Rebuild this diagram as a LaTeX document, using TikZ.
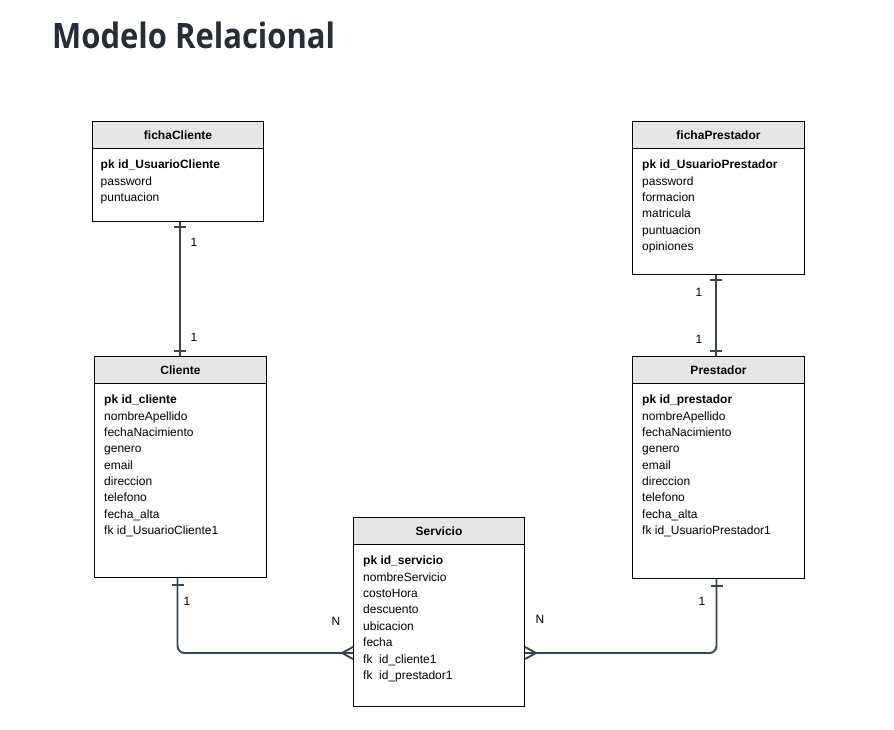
\documentclass[tikz,border=0pt]{standalone}
\usepackage{fontspec}
\setmainfont{Liberation Sans}
\newfontfamily\titlefont{Open Sans}
\usetikzlibrary{calc}
\definecolor{lnc}{RGB}{54,70,84}
\definecolor{hdrc}{RGB}{230,230,230}
\definecolor{ttlc}{RGB}{38,45,54}
\tikzset{
  hdr/.style={draw=black, fill=hdrc, line width=1pt, anchor=north west, minimum height=27pt, inner sep=0pt, font=\fontsize{12}{14}\selectfont\bfseries},
  tbody/.style={draw=black, fill=white, line width=1pt, anchor=north west, inner sep=0pt},
  fields/.style={anchor=north west, inner sep=0pt, align=left, font=\fontsize{12}{16.35}\selectfont},
  rel/.style={draw=lnc, line width=1.9pt},
  tick/.style={draw=lnc, line width=1.8pt},
  card/.style={inner sep=0pt, font=\fontsize{12}{14}\selectfont},
}
\begin{document}
\begin{tikzpicture}[x=1pt,y=-1pt]
\useasboundingbox (0,0) rectangle (894,730);
% title
\node[anchor=base west, inner sep=0pt, text=ttlc, font=\titlefont\bfseries\fontsize{35}{40}\selectfont] (title) at (52,49) {\scalebox{0.885}[1]{Modelo Relacional}};

% fichaCliente
\node[hdr, minimum width=171pt] (fcH) at (92,121) {fichaCliente};
\node[tbody, minimum width=171pt, minimum height=73pt] (fc) at (92,148) {};
\node[fields] (fcT) at ([shift={(8.5,12)}]fc.north west) {\textbf{pk id\_UsuarioCliente}\\password\\puntuacion};

% fichaPrestador
\node[hdr, minimum width=172pt] (fpH) at (632,121) {fichaPrestador};
\node[tbody, minimum width=172pt, minimum height=126pt] (fp) at (632,148) {};
\node[fields] (fpT) at ([shift={(10,12)}]fp.north west) {\textbf{pk id\_UsuarioPrestador}\\password\\formacion\\matricula\\puntuacion\\opiniones};

% Cliente
\node[hdr, minimum width=172pt] (clH) at (94,356) {Cliente};
\node[tbody, minimum width=172pt, minimum height=194pt] (cl) at (94,383) {};
\node[fields] (clT) at ([shift={(10,12)}]cl.north west) {\textbf{pk id\_cliente}\\nombreApellido\\fechaNacimiento\\genero\\email\\direccion\\telefono\\fecha\_alta\\fk id\_UsuarioCliente1};

% Prestador
\node[hdr, minimum width=172pt] (prH) at (632,356) {Prestador};
\node[tbody, minimum width=172pt, minimum height=195pt] (pr) at (632,383) {};
\node[fields] (prT) at ([shift={(10,12)}]pr.north west) {\textbf{pk id\_prestador}\\nombreApellido\\fechaNacimiento\\genero\\email\\direccion\\telefono\\fecha\_alta\\fk id\_UsuarioPrestador1};

% Servicio
\node[hdr, minimum width=171pt] (svH) at (353,517) {Servicio};
\node[tbody, minimum width=171pt, minimum height=162pt] (sv) at (353,544) {};
\node[fields] (svT) at ([shift={(10,12)}]sv.north west) {\textbf{pk id\_servicio}\\nombreServicio\\costoHora\\descuento\\ubicacion\\fecha\\fk\ \ id\_cliente1\\fk\ \ id\_prestador1};

% fichaCliente -- Cliente
\coordinate (fcB) at ([xshift=-0.5pt]fc.south -| clH.north);
\coordinate (clN) at ([xshift=-0.5pt]clH.north);
\draw[rel] (fcB) -- (clN);
\draw[tick] ([shift={(-6,5)}]fcB) -- ([shift={(6,5)}]fcB);
\draw[tick] ([shift={(-6,-5)}]clN) -- ([shift={(6,-5)}]clN);
\node[card] (c1a) at (194,242) {1};
\node[card] (c1b) at (194,337) {1};

% fichaPrestador -- Prestador
\coordinate (fpB) at ([xshift=-2.5pt]fp.south);
\coordinate (prN) at ([xshift=-2.5pt]prH.north);
\draw[rel] (fpB) -- (prN);
\draw[tick] ([shift={(-6,5)}]fpB) -- ([shift={(6,5)}]fpB);
\draw[tick] ([shift={(-6,-5)}]prN) -- ([shift={(6,-5)}]prN);
\node[card] (c2a) at (699,292) {1};
\node[card] (c2b) at (699,339) {1};

% Cliente -- Servicio
\coordinate (svL) at (sv.west |- 0,653);
\coordinate (svR) at (sv.east |- 0,653);
\draw[rel, rounded corners=7pt] ([xshift=-3pt]cl.south) |- (svL);
\draw[tick] ([shift={(-9,7)}]cl.south) -- ([shift={(3,7)}]cl.south);
\draw[rel] ([xshift=-11pt]svL) -- ([yshift=-6pt]svL);
\draw[rel] ([xshift=-11pt]svL) -- ([yshift=6pt]svL);
\node[card] (c3a) at (187,601) {1};
\node[card] (c3b) at (336,621) {N};

% Prestador -- Servicio
\draw[rel, rounded corners=7pt] ([xshift=-2pt]pr.south) |- (svR);
\draw[tick] ([shift={(-8,7)}]pr.south) -- ([shift={(4,7)}]pr.south);
\draw[rel] ([xshift=11pt]svR) -- ([yshift=-6pt]svR);
\draw[rel] ([xshift=11pt]svR) -- ([yshift=6pt]svR);
\node[card] (c4a) at (702,601) {1};
\node[card] (c4b) at (540,619) {N};
\end{tikzpicture}
\end{document}
